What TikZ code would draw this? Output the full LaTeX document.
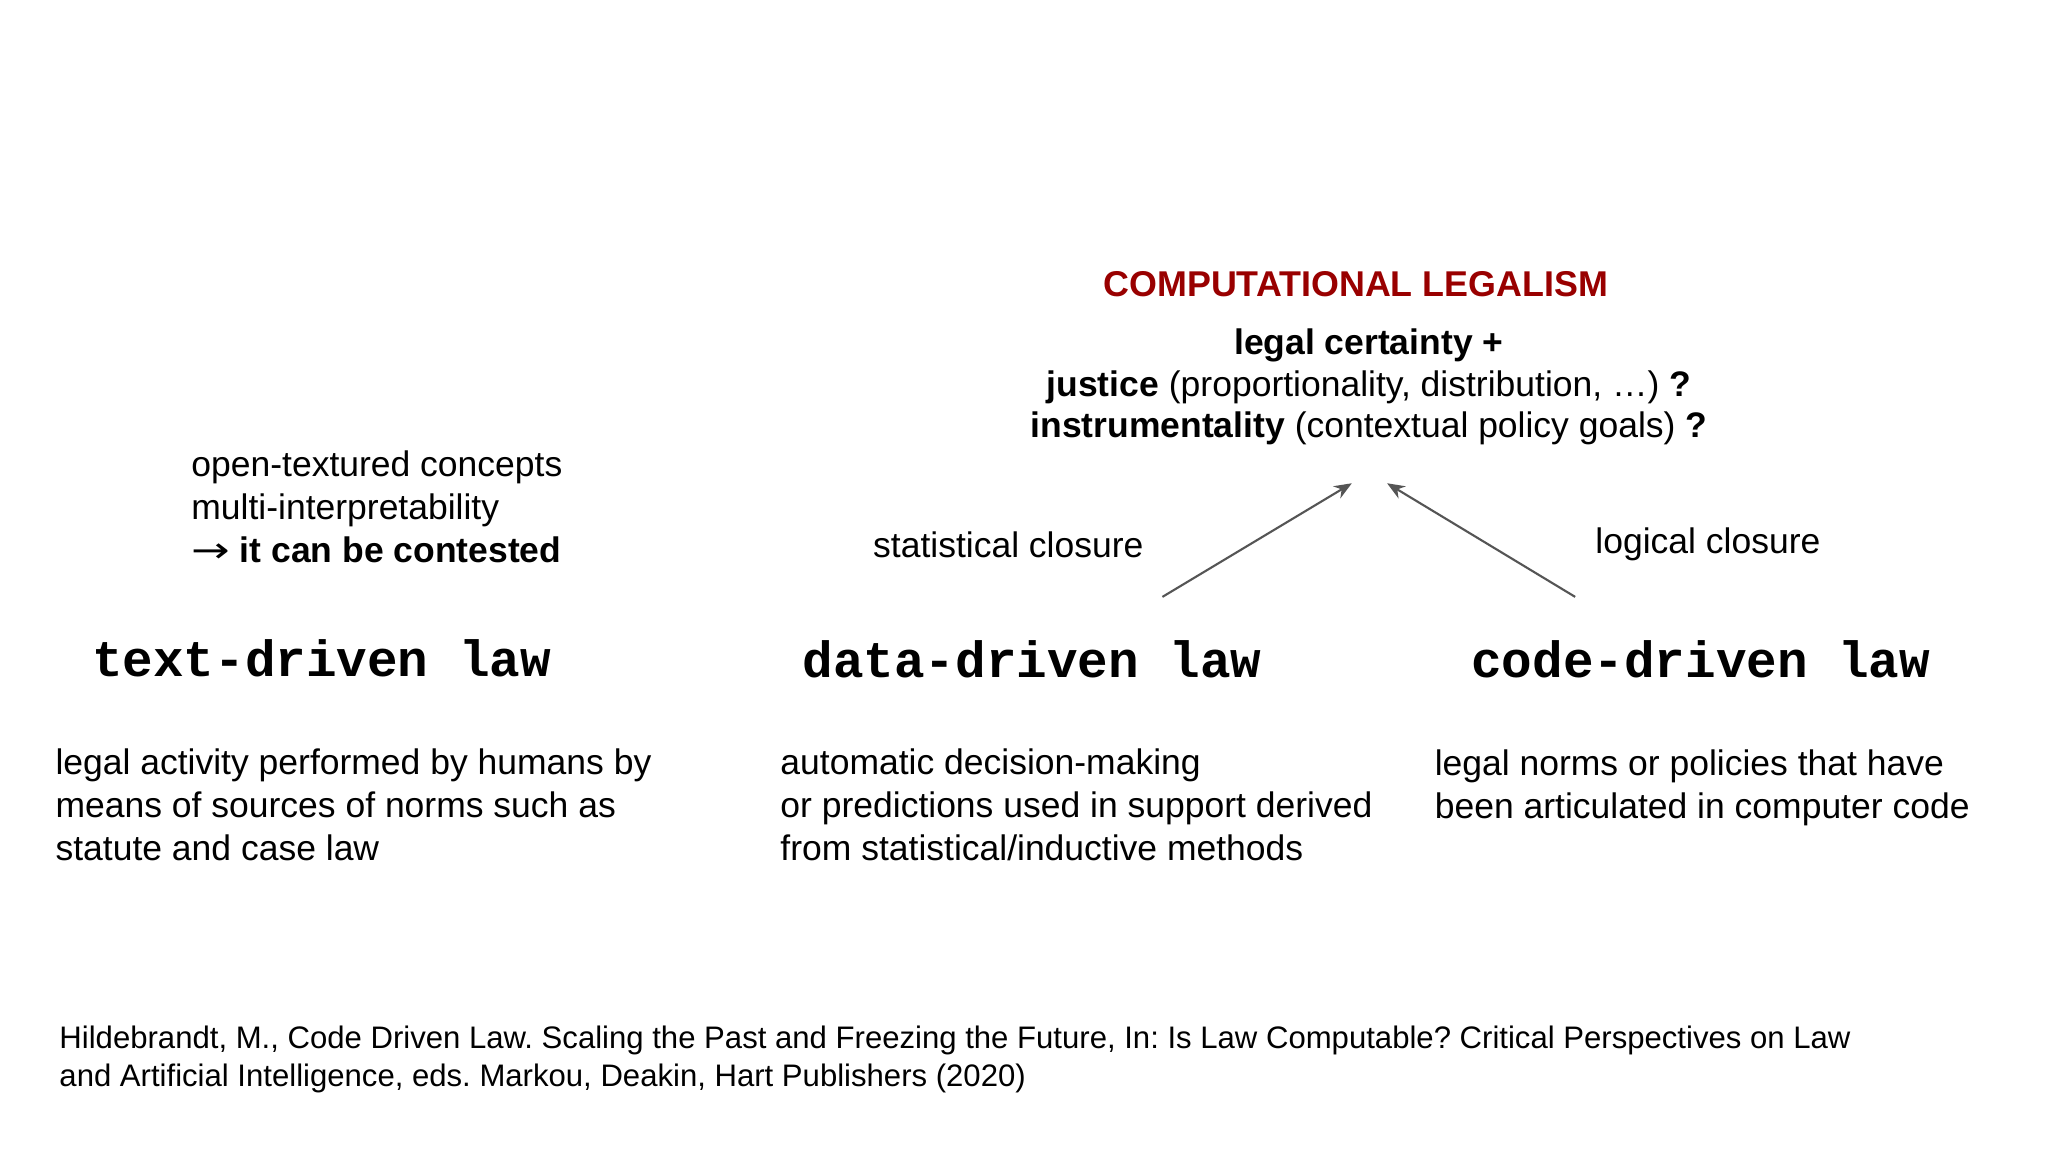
\documentclass[tikz,border=0pt]{standalone}
\usepackage{fontspec}
\setmainfont{Liberation Sans}
\newfontfamily\monob{Liberation Mono}
\usetikzlibrary{arrows.meta}
\frenchspacing
\definecolor{titlered}{HTML}{990000}
\definecolor{arrowgray}{HTML}{555555}
\tikzset{
  body/.style={anchor=base west,align=left,inner sep=0pt,font=\fontsize{10.1}{12.3}\selectfont},
  lawname/.style={anchor=base west,inner sep=0pt,font=\monob\bfseries\fontsize{14.5}{16}\selectfont},
  cite/.style={anchor=base west,align=left,inner sep=0pt,font=\fontsize{8.85}{10.8}\selectfont},
  closure/.style={-{Stealth[length=5pt,width=4pt]},arrowgray,line width=0.6pt}
}
\begin{document}
\begin{tikzpicture}[x=0.013061cm,y=-0.013061cm]
\useasboundingbox[fill=white] (0,0) rectangle (1568,882);
\node[anchor=base,inner sep=0pt,font=\bfseries\fontsize{10.2}{12}\selectfont,text=titlered] (title) at (1038,227) {COMPUTATIONAL LEGALISM};
\node[anchor=base,align=center,inner sep=0pt,font=\fontsize{10.1}{11.8}\selectfont] (goals) at (1048,335) {\textbf{legal certainty +}\\\textbf{justice} (proportionality, distribution, \dots) \textbf{?}\\\textbf{instrumentality} (contextual policy goals) \textbf{?}};
\node[body] (open) at (146,431) {open-textured concepts\\multi-interpretability\\{\fontspec{DejaVu Sans}\fontsize{10.1}{12}\selectfont\hspace{0pt}\scalebox{1.3}[1]{→}} \textbf{it can be contested}};
\node[body] (stat) at (668,427) {statistical closure};
\node[body] (logic) at (1221,424) {logical closure};
\node[lawname] (text) at (70,518) {text-driven law};
\node[lawname] (data) at (614,519) {data-driven law};
\node[lawname] (code) at (1126,519) {code-driven law};
\node[body] (textd) at (42,659) {legal activity performed by humans by\\means of sources of norms such as\\statute and case law};
\node[body] (datad) at (597,659) {automatic decision-making\\or predictions used in support derived\\from statistical/inductive methods};
\node[body] (coded) at (1098,627) {legal norms or policies that have\\been articulated in computer code};
\node[cite] (ref) at (45,832) {Hildebrandt, M., Code Driven Law. Scaling the Past and Freezing the Future, In: Is Law Computable? Critical Perspectives on Law\\and Artificial Intelligence, eds. Markou, Deakin, Hart Publishers (2020)};
\coordinate (a1s) at (890,457);
\coordinate (a1e) at (1035,370);
\coordinate (a2s) at (1206,457);
\coordinate (a2e) at (1062,370);
\draw[closure] (a1s) -- (a1e);
\draw[closure] (a2s) -- (a2e);
\end{tikzpicture}
\end{document}
